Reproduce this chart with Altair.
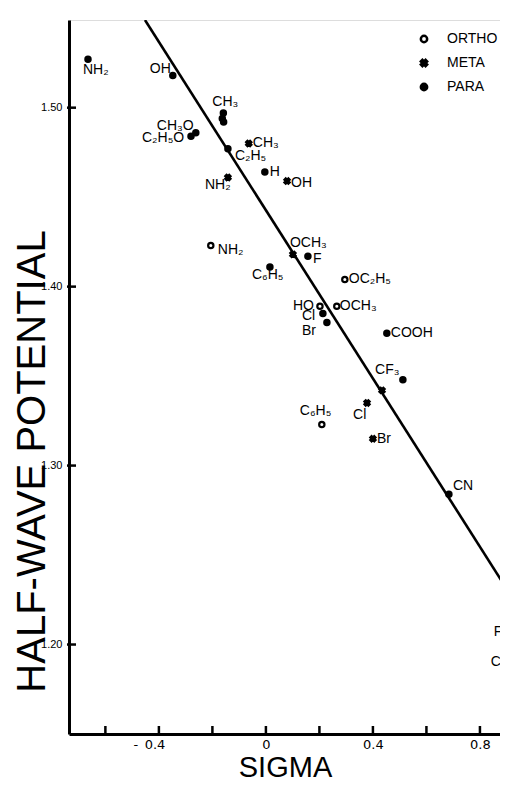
import altair as alt
import pandas as pd

# ---- data ----
labels = ["NH₂", "OH", "CH₃", "", "", "CH₃O", "C₂H₅O", "C₂H₅", "CH₃", "H", "NH₂",
          "OH", "NH₂", "OCH₃", "F", "C₆H₅", "OC₂H₅", "HO", "OCH₃", "Cl", "Br",
          "COOH", "", "CF₃", "Cl", "C₆H₅", "Br", "CN", "F", "C"]
kinds = ["PARA", "PARA", "PARA", "PARA", "PARA", "PARA", "PARA", "PARA", "META", "PARA", "META",
         "META", "ORTHO", "META", "PARA", "PARA", "ORTHO", "ORTHO", "ORTHO", "PARA", "PARA",
         "PARA", "PARA", "META", "META", "ORTHO", "META", "PARA", "PARA", "PARA"]
sigma = [-0.665, -0.348, -0.159, -0.163, -0.158, -0.262, -0.280, -0.142, -0.064, -0.004, -0.142,
         0.079, -0.206, 0.101, 0.157, 0.015, 0.295, 0.202, 0.265, 0.213, 0.228,
         0.452, 0.512, 0.434, 0.378, 0.209, 0.400, 0.684, 0.960, 0.960]
e_half = [1.527, 1.518, 1.497, 1.494, 1.492, 1.486, 1.484, 1.477, 1.480, 1.464, 1.461,
          1.459, 1.423, 1.418, 1.417, 1.411, 1.404, 1.389, 1.389, 1.385, 1.380,
          1.374, 1.348, 1.342, 1.335, 1.323, 1.315, 1.284, 1.207, 1.190]

# annotation placement (pixel offsets of each label's left-middle from its point)
label_dx = [-5, -23, -11, 0, 0, -39, -49, 7, 4, 5, -23,
            4, 7, -3, 5, -18, 4, -27, 3, -21, -25,
            4, 0, -7, -14, -22, 4, 4, -29, -32]
label_dy = [11, -6, -11, 0, 0, -7, 2, 7, 0, 0, 8,
            2, 5, -11, 3, 8, 0, 0, 0, 3, 9,
            0, 0, -20, 12, -13, 0, -8, 0, 0]

line_sigma = [-0.452, 0.96]
line_e = [1.549, 1.217]

x_minor_ticks = [-0.6, -0.4, -0.2, 0.0, 0.2, 0.4, 0.6, 0.8]
x_label_values = [-0.4, 0.0, 0.4, 0.8]
y_ticks = [1.20, 1.30, 1.40, 1.50]

kind_order = ["ORTHO", "META", "PARA"]

FONT = "Liberation Sans"
W, H = 431, 714
X_DOM = [-0.736, 0.875]
Y_DOM = [1.15, 1.549]
px_per_x = W / (X_DOM[1] - X_DOM[0])
px_per_y = H / (Y_DOM[1] - Y_DOM[0])

# ---- tables ----
pts = pd.DataFrame({"label": labels, "kind": kinds, "sigma": sigma, "e": e_half,
                    "dx": label_dx, "dy": label_dy})
line_df = pd.DataFrame({"sigma": line_sigma, "e": line_e})
xt_df = pd.DataFrame({"sigma": x_minor_ticks})
yt_df = pd.DataFrame({"e": y_ticks})

xscale = alt.Scale(domain=X_DOM, nice=False, zero=False)
yscale = alt.Scale(domain=Y_DOM, nice=False, zero=False)

EN = "\u2002"
x_axis = alt.Axis(
    values=x_label_values, ticks=False, grid=False,
    labelExpr=("datum.value < 0 ? '-" + EN + "' + format(abs(datum.value), '.1f')"
               " : (datum.value == 0 ? '0' : format(datum.value, '.1f'))"),
    labelOffset={"condition": {"test": "datum.value < 0", "value": -10}, "value": 0},
    labelFont="DejaVu Sans", labelFontSize=13, labelPadding=4, labelColor="black",
    domainColor="black", domainWidth=3,
    title="SIGMA", titleFont=FONT, titleFontSize=29, titleFontWeight="normal",
    titleColor="black", titleX=216, titleY=42, titleBaseline="alphabetic",
    titleAnchor="start", titleAlign="center",
)
y_axis = alt.Axis(
    values=y_ticks, ticks=False, grid=False, format=".2f",
    labelFont=FONT, labelFontSize=11, labelPadding=7, labelColor="black",
    domainColor="black", domainWidth=3,
    title="HALF-WAVE  POTENTIAL", titleFont=FONT, titleFontSize=40,
    titleFontWeight="normal", titleColor="black", titleX=-25, titleY=441,
    titleAngle=-90, titleBaseline="alphabetic", titleAlign="center",
)

x_enc = alt.X("sigma:Q", scale=xscale, axis=x_axis)
y_enc = alt.Y("e:Q", scale=yscale, axis=y_axis)

line = alt.Chart(line_df).mark_line(color="black", strokeWidth=2.6, clip=True).encode(
    x=x_enc, y=y_enc,
)

# inward tick stubs on both axes
xticks = alt.Chart(xt_df).transform_calculate(
    y0=f"{Y_DOM[0]}", y1=f"{Y_DOM[0]} + 8 / {px_per_y}",
).mark_rule(color="black", strokeWidth=2.5).encode(
    x=x_enc,
    y=alt.Y("y0:Q", scale=yscale, axis=y_axis),
    y2="y1:Q",
)
yticks = alt.Chart(yt_df).transform_calculate(
    x0=f"{X_DOM[0]} - 2 / {px_per_x}", x1=f"{X_DOM[0]} + 7 / {px_per_x}",
).mark_rule(color="black", strokeWidth=2.5).encode(
    y=y_enc,
    x=alt.X("x0:Q", scale=xscale, axis=x_axis),
    x2="x1:Q",
)

x_path = "M-1,-0.5L-0.5,-1L0,-0.5L0.5,-1L1,-0.5L0.5,0L1,0.5L0.5,1L0,0.5L-0.5,1L-1,0.5L-0.5,0Z"

legend = alt.Legend(
    title=None, orient="none", legendX=348, legendY=12,
    labelFont=FONT, labelFontSize=14, labelColor="black", labelOffset=16,
    rowPadding=6, symbolSize=40, symbolStrokeColor="black", symbolStrokeWidth=2.5,
    padding=0,
)

points = alt.Chart(pts).mark_point(
    strokeWidth=2.2, size=28, opacity=1, clip=True
).encode(
    x=x_enc, y=y_enc,
    shape=alt.Shape("kind:N", scale=alt.Scale(domain=kind_order,
                    range=["circle", x_path, "circle"]), legend=legend),
    fill=alt.Fill("kind:N", scale=alt.Scale(domain=kind_order,
                  range=["white", "black", "black"]), legend=legend),
    stroke=alt.Stroke("kind:N", scale=alt.Scale(domain=kind_order,
                      range=["black", "black", "black"]), legend=legend),
)

text = alt.Chart(pts).transform_calculate(
    lx=f"datum.sigma + datum.dx / {px_per_x}",
    ly=f"datum.e - datum.dy / {px_per_y}",
).mark_text(
    align="left", baseline="middle", font=FONT, fontSize=14, color="black"
).encode(
    x=alt.X("lx:Q", scale=xscale, axis=x_axis),
    y=alt.Y("ly:Q", scale=yscale, axis=y_axis),
    text="label:N",
)

chart = alt.layer(line, xticks, yticks, points, text).properties(
    width=W, height=H,
    autosize=alt.AutoSizeParams(type="none"),
    padding={"left": 61, "top": 12, "right": 0, "bottom": 45},
).configure_view(stroke=None).configure(background="white")

chart.save("out.html", embed_options={"renderer": "svg", "actions": False})
